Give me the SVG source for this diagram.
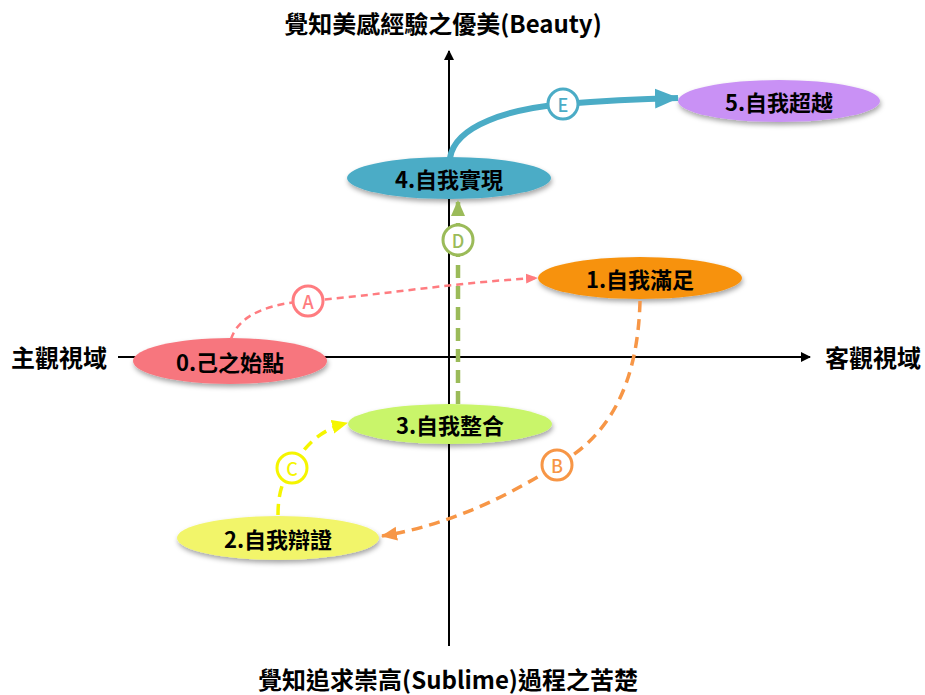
<svg xmlns="http://www.w3.org/2000/svg" width="925" height="695" viewBox="0 0 925 695">
<style>
text{font-family:"Noto Sans CJK TC","Noto Sans CJK SC",sans-serif;font-weight:bold;fill:#000}
.axis{stroke:#000;stroke-width:2;fill:none}
.nt{font-size:22px;text-anchor:middle;dominant-baseline:central}
.ax{font-size:24px}
.lbl{fill:#fff;stroke-width:3}
.lt{font-size:18px;font-weight:500;text-anchor:middle;dominant-baseline:central}
.node ellipse{filter:url(#sh)}
</style>
<defs>
<filter id="sh" x="-20%" y="-30%" width="140%" height="170%">
<feDropShadow dx="1" dy="3" stdDeviation="2.5" flood-color="#000" flood-opacity="0.35"/>
</filter>
<marker id="ak" markerWidth="10" markerHeight="10" refX="9" refY="5" orient="auto" markerUnits="userSpaceOnUse"><path d="M0,0 L10,5 L0,10 Z" fill="#000"/></marker>
<marker id="aA" markerWidth="12" markerHeight="12" refX="11" refY="6" orient="auto" markerUnits="userSpaceOnUse"><path d="M0,1 L12,6 L0,11 Z" fill="#ff7c80"/></marker>
<marker id="aB" markerWidth="16" markerHeight="16" refX="15" refY="8" orient="auto" markerUnits="userSpaceOnUse"><path d="M0,1 L16,8 L0,15 Z" fill="#f79646"/></marker>
<marker id="aC" markerWidth="16" markerHeight="16" refX="15" refY="8" orient="auto" markerUnits="userSpaceOnUse"><path d="M0,1 L16,8 L0,15 Z" fill="#f5f500"/></marker>
<marker id="aD" markerWidth="16" markerHeight="16" refX="15" refY="8" orient="auto" markerUnits="userSpaceOnUse"><path d="M0,1 L16,8 L0,15 Z" fill="#9bbb59"/></marker>
<marker id="aE" markerWidth="24" markerHeight="24" refX="23" refY="12" orient="auto" markerUnits="userSpaceOnUse"><path d="M0,2 L24,12 L0,22 Z" fill="#4bacc6"/></marker>
</defs>
<rect width="925" height="695" fill="#fff"/>
<g id="axes">
<line class="axis" x1="449" y1="646" x2="449" y2="51" marker-end="url(#ak)"/>
<line class="axis" x1="118" y1="357" x2="810" y2="357" marker-end="url(#ak)"/>
<text class="ax" x="11" y="367">主觀視域</text>
<text class="ax" x="825" y="367">客觀視域</text>
<text class="ax" x="443" y="33" text-anchor="middle">覺知美感經驗之優美(Beauty)</text>
<text class="ax" x="448" y="689" text-anchor="middle">覺知追求崇高(Sublime)過程之苦楚</text>
</g>
<g id="n0" class="node"><ellipse cx="230" cy="361" rx="97" ry="23" fill="#f7767e"/><text class="nt" x="230" y="361">0.己之始點</text></g>
<g id="n1" class="node"><ellipse cx="640" cy="278" rx="102" ry="21" fill="#f7920c"/><text class="nt" x="640" y="278">1.自我滿足</text></g>
<g id="n2" class="node"><ellipse cx="278" cy="538" rx="101" ry="22" fill="#f2f56b"/><text class="nt" x="278" y="538">2.自我辯證</text></g>
<g id="n3" class="node"><ellipse cx="450" cy="424" rx="102" ry="20" fill="#c9f56a"/><text class="nt" x="450" y="424">3.自我整合</text></g>
<g id="n4" class="node"><ellipse cx="449" cy="178" rx="102" ry="21" fill="#4bacc6"/><text class="nt" x="449" y="178">4.自我實現</text></g>
<g id="n5" class="node"><ellipse cx="779" cy="101" rx="101" ry="21" fill="#c991f5"/><text class="nt" x="779" y="101">5.自我超越</text></g>
<g id="connectors" fill="none">
<path d="M231,339 C 240,312 275,303 308,301 C 380,295 460,282 537,278" stroke="#ff7c80" stroke-width="2.5" stroke-dasharray="7,5" marker-end="url(#aA)"/>
<path d="M640,301 C 638,380 612,435 557,465 C 510,495 450,525 382,536" stroke="#f79646" stroke-width="3.5" stroke-dasharray="11,7" marker-end="url(#aB)"/>
<path d="M278,515 C 278,495 282,480 292,468 C 305,445 320,430 347,423" stroke="#f5f500" stroke-width="3.5" stroke-dasharray="11,7" marker-end="url(#aC)"/>
<path d="M458,404 L458,201" stroke="#9bbb59" stroke-width="4.5" stroke-dasharray="13,8" marker-end="url(#aD)"/>
<path d="M450,158 C 455,125 510,109 563,104 C 600,101 640,99 678,98" stroke="#4bacc6" stroke-width="6" marker-end="url(#aE)"/>
<circle class="lbl" cx="308" cy="301" r="15" stroke="#ff7c80"/><text class="lt" x="308" y="301" style="fill:#ff7c80">A</text>
<circle class="lbl" cx="557" cy="465" r="15" stroke="#f79646"/><text class="lt" x="557" y="465" style="fill:#f79646">B</text>
<circle class="lbl" cx="292" cy="468" r="15" stroke="#f5f500"/><text class="lt" x="292" y="468" style="fill:#f5f500">C</text>
<circle class="lbl" cx="458" cy="240" r="15" stroke="#9bbb59"/><text class="lt" x="458" y="240" style="fill:#9bbb59">D</text>
<circle class="lbl" cx="563" cy="104" r="15" stroke="#4bacc6"/><text class="lt" x="563" y="104" style="fill:#4bacc6">E</text>
</g>
</svg>
